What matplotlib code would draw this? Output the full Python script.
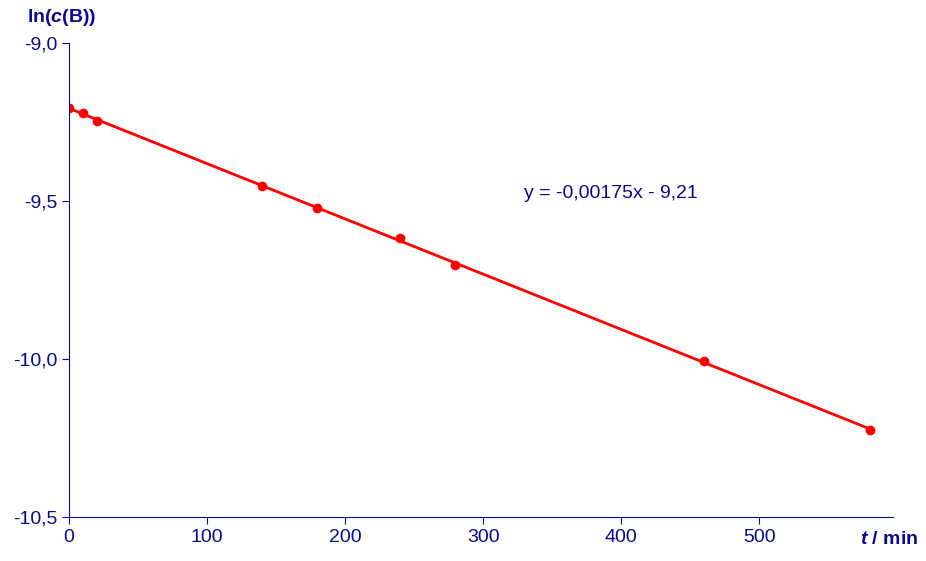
import matplotlib
matplotlib.use("Agg")
import matplotlib.pyplot as plt
import numpy as np

t_min = [0, 10, 20, 140, 180, 240, 280, 460, 580]
ln_c = [-9.206, -9.222, -9.247, -9.453, -9.522, -9.617, -9.703, -10.006, -10.225]
yticks = [-9.0, -9.5, -10.0, -10.5]
xticks = [0, 100, 200, 300, 400, 500]

plt.rcParams['font.family'] = ['Liberation Sans', 'DejaVu Sans']
plt.rcParams['mathtext.fontset'] = 'custom'
plt.rcParams['mathtext.bf'] = 'Liberation Sans:bold'
plt.rcParams['mathtext.bfit'] = 'Liberation Sans:italic:bold'
plt.rcParams['mathtext.it'] = 'Liberation Sans:italic'
plt.rcParams['mathtext.rm'] = 'Liberation Sans'
col = '#0a0a8c'

fig = plt.figure(figsize=(9.26, 5.61), dpi=100)
ax = fig.add_axes([69/926, 1-517/561, (893-69)/926, (517-43)/561])
k, d = np.polyfit(t_min, ln_c, 1)
xs = np.array([min(t_min), max(t_min)])
ax.plot(xs, k*xs + d, color='#ff0000', lw=2)
ax.plot(t_min, ln_c, 'o', color='#ff0000', ms=6)
ax.set_xlim(0, 597)
ax.set_ylim(-10.5, -9.0)
ax.set_xticks(xticks)
ax.set_yticks(yticks)
ax.set_yticklabels([f"{v:.1f}".replace('.', ',') for v in yticks])
for s in ['top', 'right']:
    ax.spines[s].set_visible(False)
for s in ['left', 'bottom']:
    ax.spines[s].set_color(col)
ax.tick_params(colors=col, labelcolor=col, labelsize=14, direction='out', length=5)
fig.text(62/926, 1-18/561, r"$\mathbf{ln(}\mathbfit{c}\mathbf{(B))}$", color=col, fontsize=14, ha='center', va='center')
fig.text(918/926, 1-540/561, r"$\mathbfit{t}\mathbf{\ /\ min}$", color=col, fontsize=14, ha='right', va='center')
ax.text(330, -9.475, "y = -0,00175x - 9,21", color=col, fontsize=14, ha='left', va='center')
fig.savefig("out.png", dpi=100)
